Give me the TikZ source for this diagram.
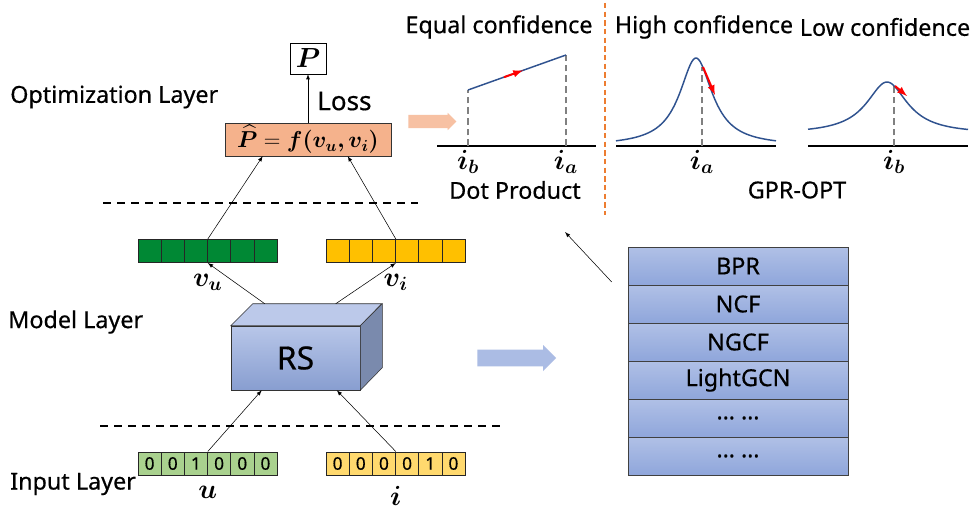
\documentclass[tikz,border=0pt]{standalone}
\usepackage[no-math]{fontspec}
\usepackage{amsmath,bm}
\setmainfont{Noto Sans}[FakeBold=0.5]
\usetikzlibrary{positioning, calc, shapes.arrows}

\definecolor{lossfill}{RGB}{245,178,140}
\definecolor{vugreen}{RGB}{0,136,52}
\definecolor{vigold}{RGB}{255,192,0}
\definecolor{ugreen}{RGB}{169,209,142}
\definecolor{iorange}{RGB}{255,217,110}
\definecolor{curveblue}{RGB}{47,82,143}
\definecolor{sepline}{RGB}{237,125,49}
\definecolor{rowtop}{RGB}{176,192,230}
\definecolor{rowbot}{RGB}{143,166,219}

\begin{document}
\begin{tikzpicture}[x=0.75pt, y=-0.75pt,
  txt/.style={font=\fontsize{17.5}{20}\selectfont, inner sep=0pt},
  layername/.style={txt, anchor=west},
  mathlbl/.style={font=\fontsize{20}{22}\selectfont, inner sep=0pt},
  cell/.style={draw=black!85, minimum width=17.38pt, minimum height=17.6pt, inner sep=0pt, font=\fontsize{13}{14}\selectfont},
  layersep/.style={line width=1.5pt, dash pattern=on 6pt off 4.5pt},
  modelrow/.style={draw=black!75, top color=rowtop, bottom color=rowbot, minimum width=165pt, minimum height=28.5pt, inner sep=0pt, txt},
  curve/.style={curveblue, line width=1.1pt},
  axis/.style={line width=1.3pt},
  guide/.style={gray, line width=1.1pt, dash pattern=on 5pt off 3pt},
  grad/.style={red, line width=1.5pt, -latex}]
\useasboundingbox[fill=white] (0,0) rectangle (972,510);

\node[layername] (optL) at (10,97) {Optimization Layer};
\node[layername] (modL) at (8,322) {Model Layer};
\node[layername] (inL) at (10,484) {Input Layer};

\draw[layersep] (103,203) -- (418,203);
\draw[layersep] (100,426) -- (505,426);

% optimization layer
\node[draw, fill=white, minimum width=27pt, minimum height=23pt, inner sep=0pt, mathlbl] (P) at (308,58.5) {$\bm{P}$};
\node[draw=black!80, fill=lossfill, minimum width=124.5pt, minimum height=24.5pt, inner sep=0pt, font=\fontsize{18}{20}\selectfont] (fhat) at (308,139.5) {$\widehat{\bm P}=\bm{f(v_u,v_i)}$};
\draw[-latex] (P.south |- fhat.north) -- (P.south);
\node[txt, anchor=west, font=\fontsize{19.5}{22}\selectfont] (loss) at (317,101) {Loss};

% embeddings
\foreach \k in {1,...,6} {
  \node[cell, fill=vugreen] (vu\k) at (138+23.17*\k-11.58,251) {};
  \node[cell, fill=vigold] (vi\k) at (326+23.17*\k-11.58,251) {};
}
\node[mathlbl, below=8pt of vu3.south east] (vulbl) {$\bm{v_u}$};
\node[mathlbl, below=8pt of vi3.south east] (vilbl) {$\bm{v_i}$};
\draw[-latex] (vu3.north east) -- ($(fhat.south west)+(38,0)$);
\draw[-latex] (vi3.north east) -- ($(fhat.south west)+(123,0)$);

% RS block
\node[draw=black!80, top color=rowtop!90, bottom color=rowbot!95!black, minimum width=96.75pt, minimum height=48pt, inner sep=0pt, font=\fontsize{24}{28}\selectfont] (rs) at (295.5,358) {RS};
\draw[draw=black!80, fill=rowtop!85!white] (rs.north west) -- ++(22,-22) -- ++(129,0) -- (rs.north east) -- cycle;
\draw[draw=black!80, fill=rowbot!75!black!90] (rs.north east) -- ++(22,-22) -- ++(0,64) -- (rs.south east) -- cycle;
\draw[-latex] ($(rs.north west)+(34,-22)$) -- (vu3.south east);
\draw[-latex] ($(rs.north west)+(105,-22)$) -- (vi3.south east);

% inputs
\foreach \d [count=\k] in {0,0,1,0,0,0}
  \node[cell, fill=ugreen] (u\k) at (138+23.17*\k-11.58,463.5) {\d};
\foreach \d [count=\k] in {0,0,0,0,1,0}
  \node[cell, fill=iorange] (i\k) at (326+23.17*\k-11.58,463.5) {\d};
\node[mathlbl, font=\fontsize{22}{24}\selectfont, below=8pt of u3.south east] (ulbl) {$\bm{u}$};
\node[mathlbl, font=\fontsize{22}{24}\selectfont, below=8pt of i3.south east] (ilbl) {$\bm{i}$};
\draw[-latex] (u3.north east) -- ($(rs.south west)+(31,0)$);
\draw[-latex] (i3.north east) -- ($(rs.south west)+(106,0)$);

% model zoo
\node[single arrow, fill=rowbot!75, draw=none, minimum height=59pt, minimum width=19.5pt, inner sep=6pt, single arrow head extend=3.4pt] (toZoo) at (512.5,358) {};
\foreach \m [count=\k] in {BPR,NCF,NGCF,LightGCN,\ldots\ \ldots,\ldots\ \ldots}
  \node[modelrow] (m\k) at (738,228+38*\k) {\m};
\coordinate (zooref) at ($(m1.west)+(-16,16)$);
\coordinate (dotref) at (565,232);
\draw[-latex] (zooref) -- (dotref);

% loss landscapes
\node[single arrow, fill=lossfill!80, draw=none, minimum height=36pt, minimum width=13pt, inner sep=4.8pt, single arrow head extend=1.5pt] (toLoss) at (429,121.5) {};
\draw[sepline, line width=0.8pt, dash pattern=on 4pt off 2.5pt] (605,3) -- (605,215);

\node[txt] (eqC) at (499,27) {Equal confidence};
\node[txt] (hiC) at (704,27) {High confidence};
\node[txt] (loC) at (885,27) {Low confidence};
\node[txt] (dotP) at (515,190) {Dot Product};
\node[txt] (gpr) at (797,190) {GPR-OPT};

\draw[axis] (437,146) -- (596,146);
\draw[guide] (468,146) -- (468,90);
\draw[guide] (566,146) -- (566,55);
\draw[curve] (468,90) -- (566,55);
\draw[grad] (504,77.2) -- (523,70.4);
\node[mathlbl, anchor=north] (ib1) at (468,150) {$\bm{i_b}$};
\node[mathlbl, anchor=north] (ia1) at (566,150) {$\bm{i_a}$};

\draw[axis] (616,146) -- (776,146);
\draw[guide] (702,146) -- (702,67);
\draw[curve] plot[domain=616:776, samples=100, smooth] (\x,{146-88/(1+((\x-696)/20)^2)});
\draw[grad] (703,67) -- (715,95);
\node[mathlbl, anchor=north] (ia2) at (702,150) {$\bm{i_a}$};

\draw[axis] (808,146) -- (968,146);
\draw[guide] (894,146) -- (894,84);
\draw[curve] plot[domain=808:968, samples=100, smooth] (\x,{134-52/(1+((\x-887)/25)^2)});
\draw[grad] (895,86) -- (907,96);
\node[mathlbl, anchor=north] (ib2) at (894,150) {$\bm{i_b}$};
\end{tikzpicture}
\end{document}
